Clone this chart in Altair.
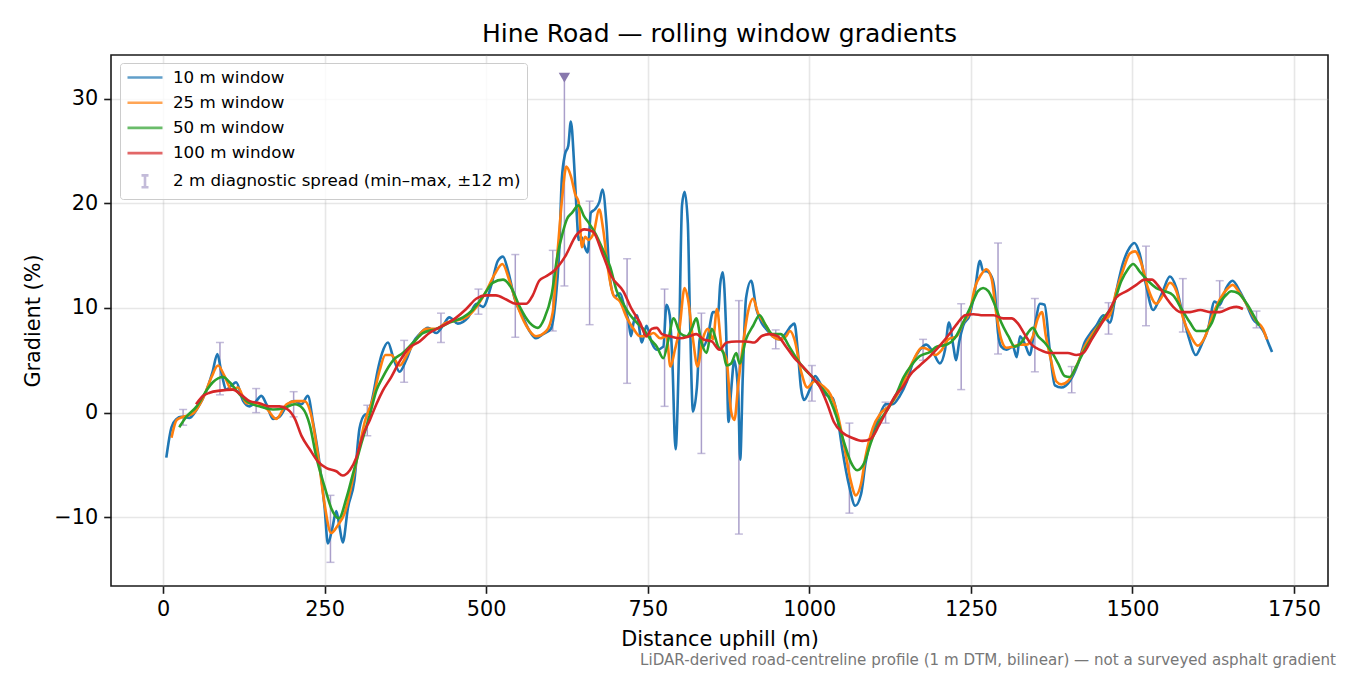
import pandas as pd
import altair as alt

# --- text -------------------------------------------------------------------
title_text = "Hine Road — rolling window gradients"
x_title = "Distance uphill (m)"
y_title = "Gradient (%)"
footnote = "LiDAR-derived road-centreline profile (1 m DTM, bilinear) — not a surveyed asphalt gradient"

series_names = ["10 m window", "25 m window", "50 m window", "100 m window"]
spread_name = "2 m diagnostic spread (min–max, ±12 m)"
series_colors = ["#1f77b4", "#ff7f0e", "#2ca02c", "#d62728"]
spread_color = "#aa9fca"
marker_color = "#8878ad"

x_ticks = [0, 250, 500, 750, 1000, 1250, 1500, 1750]
y_ticks = [-10, 0, 10, 20, 30]

# --- 10 m window ------------------------------------------------------------
w10_x = [5, 13, 21, 28, 41, 52, 67, 77, 84, 90, 98, 106, 113, 124, 134, 144, 152, 160, 170, 180,
         193, 204, 214, 224, 232, 242, 250, 255, 262, 268, 273, 278, 286, 296, 304, 312, 317, 325,
         332, 339, 348, 356, 366, 376, 387, 397, 410, 423, 433, 443, 456, 472, 485, 495, 508, 518,
         526, 534, 544, 557, 567, 577, 588, 600, 607, 613, 617, 622, 627, 631, 636, 640, 643, 647,
         652, 657, 662, 668, 675, 680, 686, 691, 699, 707, 715, 720, 724, 728, 733, 741, 748, 756,
         764, 774, 779, 784, 788, 793, 798, 803, 807, 812, 815, 820, 826, 831, 836, 843, 851, 859,
         862, 866, 871, 875, 879, 884, 890, 893, 897, 902, 910, 918, 926, 933, 943, 954, 964, 972,
         977, 982, 987, 992, 1000, 1009, 1015, 1026, 1036, 1044, 1051, 1062, 1071, 1080, 1087, 1098,
         1108, 1118, 1129, 1139, 1151, 1161, 1171, 1181, 1192, 1202, 1210, 1216, 1223, 1227, 1232,
         1238, 1248, 1256, 1264, 1269, 1274, 1282, 1287, 1292, 1297, 1305, 1315, 1321, 1326, 1334,
         1341, 1349, 1357, 1364, 1372, 1380, 1390, 1403, 1416, 1426, 1434, 1444, 1455, 1465, 1475,
         1485, 1496, 1503, 1511, 1521, 1532, 1540, 1547, 1558, 1568, 1578, 1588, 1598, 1607, 1617,
         1627, 1635, 1645, 1655, 1666, 1676, 1687, 1697, 1705, 1710, 1716]
w10_y = [-4.3, -1.4, -0.6, -0.4, -0.5, 0.3, 2.1, 4.0, 5.6, 3.9, 2.2, 2.6, 2.9, 1.1, 0.6, 1.1, 1.6, 0.8,
         -0.6, -0.4, 0.8, 1.1, 0.8, 1.6, -0.9, -4.8, -9.1, -12.5, -11.0, -9.4, -10.9, -12.4, -9.1,
         -6.5, -1.5, -0.2, -0.1, 1.7, 4.0, 5.7, 6.7, 5.3, 3.9, 5.0, 6.7, 7.5, 8.1, 7.6, 8.3, 9.1, 8.5,
         9.1, 10.4, 10.1, 12.2, 14.5, 14.9, 13.5, 10.9, 9.1, 7.8, 7.1, 7.5, 8.0, 10.5, 15.5, 22.3,
         24.7, 25.5, 27.8, 23.8, 19.1, 16.5, 16.8, 15.9, 15.3, 19.1, 19.4, 20.1, 21.3, 18.1, 13.0,
         11.1, 11.4, 9.8, 8.8, 7.3, 8.6, 9.3, 6.7, 8.3, 6.7, 6.0, 6.3, 10.3, 9.3, 5.0, -3.5, 5.0,
         19.8, 21.1, 18.1, 9.9, 0.1, 2.4, 7.3, 6.3, 7.3, 9.6, 9.6, 12.2, 13.4, 8.3, -0.9, 2.1, 5.0,
         1.7, -4.5, 3.4, 10.9, 12.6, 9.9, 8.6, 8.0, 7.3, 7.0, 7.6, 8.3, 8.5, 6.0, 2.4, 1.2, 2.1, 3.5,
         3.0, 1.7, 1.4, -0.6, -3.5, -7.1, -8.9, -7.8, -4.8, -1.9, -0.4, 0.8, 0.8, 1.5, 3.0, 4.9, 6.0,
         6.5, 5.7, 4.7, 6.0, 8.6, 6.3, 5.0, 6.8, 8.3, 9.3, 11.6, 14.5, 13.5, 13.5, 13.0, 11.6, 7.6,
         6.3, 6.0, 6.3, 5.3, 7.3, 6.5, 5.5, 8.3, 10.4, 10.3, 6.0, 2.6, 2.4, 3.0, 4.7, 6.7, 7.5, 8.3,
         9.3, 8.6, 11.6, 14.2, 15.8, 16.2, 15.2, 12.2, 9.8, 10.6, 11.6, 13.0, 11.9, 9.3, 7.0, 5.5,
         6.5, 8.0, 10.6, 10.3, 11.9, 12.6, 11.6, 10.4, 8.9, 8.3, 7.5, 6.7, 5.8]

# --- 25 m window ------------------------------------------------------------
w25_x = [13, 21, 31, 46, 62, 75, 85, 95, 106, 116, 129, 144, 160, 175, 191, 206, 219, 229, 240, 250,
         260, 271, 281, 291, 302, 312, 325, 335, 344, 353, 366, 379, 392, 407, 423, 438, 454, 469,
         485, 500, 513, 525, 536, 546, 562, 577, 593, 603, 611, 618, 624, 631, 638, 643, 648, 653,
         658, 666, 675, 681, 689, 697, 707, 718, 728, 738, 748, 759, 769, 779, 785, 792, 799, 807,
         812, 820, 827, 835, 843, 851, 857, 864, 872, 879, 884, 890, 897, 905, 913, 920, 933, 943,
         954, 964, 970, 977, 987, 997, 1008, 1020, 1033, 1044, 1054, 1064, 1072, 1080, 1087, 1098,
         1110, 1123, 1136, 1149, 1161, 1174, 1185, 1195, 1205, 1215, 1228, 1238, 1248, 1256, 1266,
         1274, 1282, 1289, 1297, 1305, 1315, 1326, 1336, 1346, 1353, 1360, 1366, 1374, 1382, 1390,
         1400, 1413, 1426, 1439, 1455, 1465, 1475, 1486, 1496, 1504, 1514, 1524, 1537, 1547, 1558,
         1568, 1578, 1591, 1601, 1612, 1624, 1635, 1648, 1655, 1666, 1679, 1691, 1702, 1708]
w25_y = [-2.4, -0.7, -0.4, -0.1, 1.4, 3.4, 4.5, 3.5, 2.2, 2.4, 0.9, 0.9, 0.4, -0.6, 0.8, 1.1, 1.1,
         -0.2, -4.2, -8.8, -11.5, -10.7, -9.6, -7.1, -3.8, -0.9, 1.4, 4.0, 5.5, 5.5, 4.5, 5.7, 7.0,
         8.0, 8.0, 8.6, 8.8, 9.1, 10.1, 11.6, 13.2, 14.2, 12.6, 10.6, 8.3, 7.3, 7.8, 9.6, 15.8, 20.8,
         23.5, 22.6, 20.8, 20.1, 15.8, 16.8, 16.5, 17.1, 19.4, 17.5, 13.5, 11.2, 10.6, 9.0, 8.0, 7.3,
         7.3, 7.6, 7.1, 7.3, 4.4, 6.0, 8.0, 11.9, 10.9, 7.0, 4.4, 7.0, 8.0, 7.0, 9.9, 6.3, 5.0, 0.1,
         -0.7, 2.7, 6.3, 9.6, 10.9, 9.6, 8.3, 7.3, 7.0, 7.3, 7.8, 7.0, 4.0, 2.4, 3.0, 2.6, 1.7, -0.2,
         -3.2, -6.5, -7.9, -6.8, -4.2, -1.5, -0.1, 0.6, 1.7, 3.4, 5.0, 6.2, 6.0, 5.5, 6.0, 7.0, 7.3,
         8.6, 9.6, 11.9, 13.2, 13.7, 12.8, 9.6, 7.0, 6.2, 6.3, 6.5, 6.5, 7.3, 8.9, 9.6, 7.3, 5.0, 3.0,
         2.7, 3.0, 4.4, 6.3, 7.6, 8.8, 9.3, 11.6, 13.7, 15.2, 15.4, 14.2, 11.9, 10.4, 11.2, 12.4, 11.6,
         9.1, 7.2, 6.4, 7.2, 9.3, 10.8, 11.9, 12.2, 11.4, 10.1, 8.8, 8.0, 7.0]

# --- 50 m window ------------------------------------------------------------
w50_x = [25, 36, 52, 67, 77, 93, 103, 119, 134, 149, 170, 186, 204, 216, 227, 237, 250, 260, 272, 284,
         294, 307, 320, 330, 340, 356, 371, 387, 402, 423, 443, 464, 479, 495, 510, 526, 539, 552,
         567, 580, 590, 601, 610, 618, 625, 633, 643, 651, 659, 669, 681, 692, 702, 713, 723, 733,
         743, 754, 764, 774, 782, 790, 800, 810, 818, 825, 833, 841, 849, 859, 867, 872, 879, 887,
         892, 902, 913, 923, 933, 943, 956, 969, 979, 992, 1005, 1015, 1028, 1041, 1054, 1064, 1074,
         1085, 1095, 1108, 1121, 1134, 1146, 1159, 1171, 1187, 1197, 1213, 1225, 1238, 1251, 1261,
         1269, 1277, 1287, 1297, 1308, 1318, 1328, 1338, 1346, 1354, 1364, 1375, 1385, 1395, 1403,
         1413, 1426, 1439, 1455, 1470, 1483, 1493, 1501, 1511, 1524, 1537, 1550, 1563, 1576, 1589,
         1599, 1612, 1623, 1633, 1643, 1653, 1664, 1677, 1690, 1696]
w50_y = [-1.4, -0.4, 0.6, 2.1, 2.9, 3.4, 2.9, 1.7, 0.9, 0.6, 0.3, 0.4, 0.8, 0.4, -1.2, -4.2, -7.1,
         -9.1, -10.1, -8.1, -5.8, -2.9, -0.2, 2.1, 3.4, 5.0, 5.7, 6.7, 7.6, 8.0, 8.6, 9.1, 9.8, 11.1,
         12.4, 12.7, 11.9, 10.1, 8.6, 8.1, 9.0, 11.2, 14.9, 17.1, 18.5, 19.1, 19.8, 18.8, 18.1, 17.1,
         15.5, 13.9, 11.6, 10.3, 9.3, 8.6, 8.0, 7.0, 6.3, 5.2, 7.0, 9.0, 7.6, 7.3, 8.0, 9.0, 6.7, 5.7,
         8.0, 6.3, 5.7, 4.5, 4.7, 5.7, 4.7, 7.0, 8.3, 9.3, 8.3, 7.5, 7.5, 6.3, 5.3, 4.2, 3.4, 2.6, 1.7,
         -0.2, -2.9, -4.7, -5.5, -4.8, -2.9, -0.9, 0.3, 1.7, 3.4, 4.6, 5.4, 5.8, 6.3, 6.5, 7.1, 8.6,
         10.3, 11.6, 11.9, 11.6, 10.3, 8.6, 7.3, 6.3, 6.7, 7.6, 8.1, 7.3, 6.7, 5.8, 4.7, 3.5, 3.4, 4.4,
         6.0, 7.3, 9.0, 10.3, 12.6, 13.7, 14.2, 13.5, 12.6, 11.9, 11.6, 11.2, 9.9, 8.6, 7.8, 7.8, 8.6,
         10.3, 11.1, 11.6, 11.4, 10.4, 9.0, 8.3]

# --- 100 m window -----------------------------------------------------------
w100_x = [51, 62, 72, 88, 108, 121, 134, 149, 165, 180, 193, 204, 214, 227, 240, 253, 268, 278, 289,
          299, 309, 320, 330, 340, 353, 366, 381, 397, 412, 433, 454, 469, 485, 500, 515, 531, 546,
          562, 572, 582, 592, 606, 622, 640, 652, 665, 681, 694, 712, 725, 738, 748, 756, 764, 772,
          784, 800, 815, 825, 836, 849, 861, 872, 887, 902, 915, 926, 938, 951, 964, 977, 990, 1003,
          1015, 1028, 1038, 1051, 1066, 1082, 1095, 1108, 1121, 1134, 1145, 1156, 1171, 1187, 1202,
          1218, 1230, 1241, 1254, 1269, 1285, 1300, 1313, 1323, 1333, 1344, 1357, 1372, 1387, 1400,
          1413, 1424, 1437, 1450, 1463, 1475, 1491, 1506, 1519, 1530, 1540, 1553, 1563, 1574, 1589,
          1605, 1620, 1635, 1651, 1661, 1671]
w100_y = [0.8, 1.6, 1.9, 2.1, 2.2, 1.7, 1.1, 0.9, 0.6, 0.6, 0.3, -0.6, -2.2, -3.5, -4.7, -5.3, -5.6,
          -6.0, -5.5, -4.3, -2.2, -0.7, 0.8, 2.1, 3.4, 4.9, 6.2, 6.8, 7.6, 8.3, 9.1, 9.9, 10.9, 11.2,
          11.2, 10.8, 10.4, 10.4, 11.2, 12.6, 13.0, 13.6, 14.9, 17.0, 17.5, 17.3, 15.0, 13.0, 11.6,
          9.9, 8.6, 7.3, 8.0, 8.1, 7.5, 7.3, 7.1, 7.3, 7.5, 7.0, 6.8, 6.0, 6.7, 6.8, 6.8, 6.7, 7.3,
          7.5, 7.3, 6.3, 5.2, 4.4, 3.5, 2.6, 0.8, -0.9, -1.9, -2.4, -2.7, -2.5, -1.2, 0.3, 1.7, 2.5,
          3.6, 4.5, 5.4, 6.4, 7.6, 8.6, 9.3, 9.4, 9.3, 9.3, 9.0, 9.0, 8.5, 7.5, 6.5, 6.0, 5.7, 5.7,
          5.7, 5.5, 5.7, 7.0, 8.3, 9.6, 11.0, 11.6, 12.2, 12.7, 12.7, 12.1, 10.9, 10.1, 9.6, 9.6, 9.8,
          9.6, 9.6, 10.0, 10.1, 9.9]

# --- 2 m diagnostic spread (min / max around each station) --------------------
spread_x = [31, 88, 144, 202, 259, 316, 373, 430, 488, 545, 603, 621, 660, 718, 776, 833, 891, 948,
            1004, 1062, 1118, 1176, 1235, 1292, 1349, 1406, 1463, 1521, 1578, 1635, 1692]
spread_lo = [-1.2, 1.7, 0.0, -0.4, -14.3, -2.2, 2.9, 6.7, 9.4, 7.2, 7.8, 12.1, 8.4, 2.8, 0.6, -3.9,
             -11.6, 6.1, 1.1, -9.6, -1.0, 5.0, 2.2, 5.6, 3.9, 1.9, 7.5, 8.3, 7.7, 10.0, 8.1]
spread_hi = [0.3, 6.7, 2.3, 2.0, -7.9, 0.7, 6.9, 9.5, 11.8, 15.1, 15.5, 32.0, 20.2, 14.7, 11.8, 9.5,
             10.7, 7.9, 4.5, -1.0, 1.0, 7.0, 10.4, 16.2, 10.9, 4.4, 10.5, 15.9, 12.8, 12.6, 9.7]
# station whose max runs off the top of the axis (shown with a triangle)
over_x = [621]
over_y = [32.0]

x_domain = [-80.6, 1802.6]
y_domain = [-16.56, 34.16]

FONT = "DejaVu Sans"

# --- long-form tables ---------------------------------------------------------
line_sets = [(w10_x, w10_y), (w25_x, w25_y), (w50_x, w50_y), (w100_x, w100_y)]
line_frames = [pd.DataFrame({"x": xs, "y": ys, "series": name})
               for name, (xs, ys) in zip(series_names, line_sets)]

spread_df = pd.DataFrame({"x": spread_x, "lo": spread_lo, "hi": spread_hi, "series": spread_name})
caps_df = pd.concat([
    pd.DataFrame({"x": spread_x, "y": spread_lo}),
    pd.DataFrame({"x": spread_x, "y": spread_hi})[~pd.Series(spread_x).isin(over_x)],
])
over_df = pd.DataFrame({"x": over_x, "y": over_y})
legend_df = pd.DataFrame({"series": series_names + [spread_name]})
note_df = pd.DataFrame({"text": [footnote]})

all_names = series_names + [spread_name]
color_scale = alt.Scale(domain=all_names, range=series_colors + [spread_color])
line_path = "M-2.5,0H2.5"
bar_path = "M0,-0.85V0.85M-0.5,-0.85H0.5M-0.5,0.85H0.5"
shape_scale = alt.Scale(domain=all_names, range=[line_path] * 4 + [bar_path])

x_scale = alt.Scale(domain=x_domain, nice=False, zero=False)
y_scale = alt.Scale(domain=y_domain, nice=False, zero=False)
x_axis = alt.Axis(values=x_ticks, format="d", title=x_title)
y_axis = alt.Axis(values=y_ticks, title=y_title,
                  labelExpr="replace(datum.label, '-', '\u2212')")

# --- layers ------------------------------------------------------------------
spread_rules = alt.Chart(spread_df).mark_rule(strokeWidth=1.5).encode(
    x=alt.X("x:Q", scale=x_scale, axis=x_axis),
    y=alt.Y("lo:Q", scale=y_scale, axis=y_axis),
    y2="hi:Q",
    color=alt.Color("series:N", scale=color_scale, legend=None),
)

spread_caps = alt.Chart(caps_df).mark_tick(
    orient="horizontal", size=8, thickness=1.5, color=spread_color
).encode(
    x=alt.X("x:Q", scale=x_scale, axis=x_axis),
    y=alt.Y("y:Q", scale=y_scale, axis=y_axis),
)

line_layers = []
for df in line_frames:
    line_layers.append(
        alt.Chart(df).mark_line(strokeWidth=2.6, interpolate="monotone").encode(
            x=alt.X("x:Q", scale=x_scale, axis=x_axis),
            y=alt.Y("y:Q", scale=y_scale, axis=y_axis),
            color=alt.Color("series:N", scale=color_scale, legend=None),
        )
    )

over_marker = alt.Chart(over_df).mark_point(
    shape="triangle-down", filled=True, size=130, opacity=1, color=marker_color
).encode(
    x=alt.X("x:Q", scale=x_scale, axis=x_axis),
    y=alt.Y("y:Q", scale=y_scale, axis=y_axis),
)

# legend only: no rows survive the filter, the entries come from the scales
legend_layer = alt.Chart(legend_df).mark_point(filled=False, strokeWidth=2.6).encode(
    color=alt.Color("series:N", scale=color_scale, title=None,
                    legend=alt.Legend(
                        orient="none", legendX=9, legendY=8, direction="vertical",
                        labelFont=FONT, labelFontSize=16.7, labelColor="#000000",
                        labelLimit=700, symbolSize=196, symbolStrokeWidth=2.6,
                        symbolOffset=10.5, labelOffset=19.5, rowPadding=7.2, padding=6,
                        fillColor="rgba(255,255,255,0.8)", strokeColor="#cccccc",
                        cornerRadius=3)),
    shape=alt.Shape("series:N", scale=shape_scale, title=None),
).transform_filter("false")

note = alt.Chart(note_df).mark_text(
    align="right", baseline="middle", font=FONT, fontSize=15.1, color="#777777"
).encode(x=alt.value(1225), y=alt.value(605), text="text:N")

chart = alt.layer(
    spread_rules, spread_caps, *line_layers, over_marker, legend_layer, note
).resolve_legend(
    color="independent", shape="independent"
).properties(
    width=1217,
    height=531,
    autosize=alt.AutoSizeParams(type="none"),
    padding={"left": 103, "top": 47, "right": 14, "bottom": 88},
    title=alt.TitleParams(text=title_text, font=FONT, fontSize=25, fontWeight="normal",
                          color="#000000", anchor="middle", offset=8),
).configure_view(
    stroke="#1a1a1a", strokeWidth=1.6
).configure_axis(
    domain=False, grid=True, gridColor="#b0b0b0", gridOpacity=0.3, gridWidth=1.6,
    tickColor="#1a1a1a", tickWidth=1.6, tickSize=7.3,
    labelFont=FONT, labelFontSize=20.8, labelColor="#000000", labelPadding=6,
    titleFont=FONT, titleFontSize=20.8, titleFontWeight="normal", titleColor="#000000",
    titlePadding=10,
)

chart.save("out.html", embed_options={"renderer": "svg", "actions": False})
